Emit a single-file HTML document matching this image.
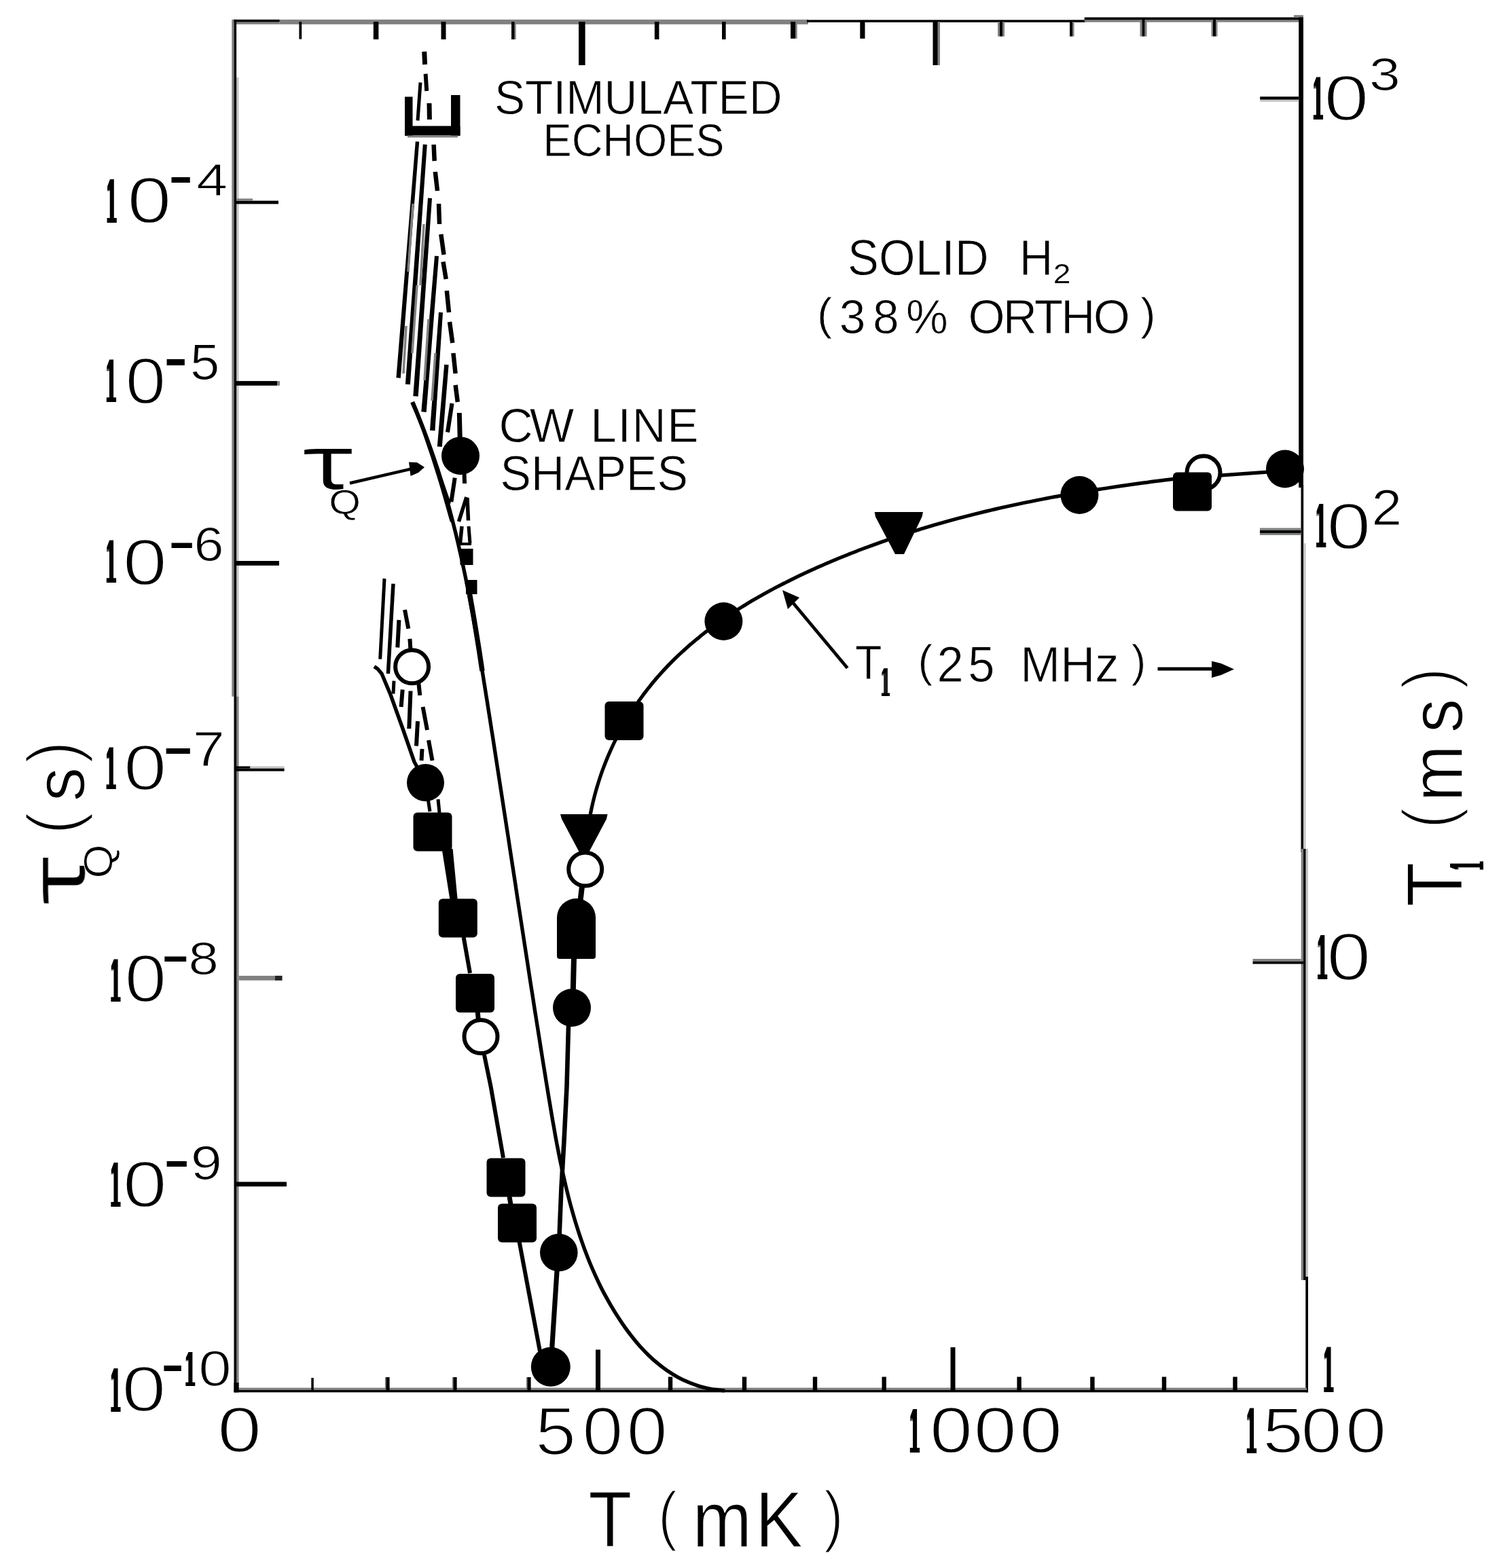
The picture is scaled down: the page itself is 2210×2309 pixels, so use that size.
<!DOCTYPE html>
<html lang="en">
<head>
<meta charset="utf-8">
<title>Solid H2 (38% ortho): tau_Q and T1 versus temperature</title>
<style>
html,body{margin:0;padding:0;background:#fff;}
body{width:2210px;height:2309px;overflow:hidden;}
svg{display:block;}
text{white-space:pre;}
</style>
</head>
<body>
<svg width="2210" height="2309" viewBox="0 0 2210 2309">
<rect width="2210" height="2309" fill="#fff"/>
<defs><filter id="e0" x="-10%" y="-10%" width="120%" height="120%"><feMorphology operator="erode" radius="1.38 0.36"/></filter><filter id="d1" x="-150%" y="-10%" width="400%" height="120%"><feMorphology operator="dilate" radius="12.82 0"/></filter><filter id="d2" x="-150%" y="-10%" width="400%" height="120%"><feMorphology operator="dilate" radius="9.88 0"/></filter><filter id="d3" x="-150%" y="-10%" width="400%" height="120%"><feMorphology operator="dilate" radius="9.88 0"/></filter><filter id="d4" x="-150%" y="-10%" width="400%" height="120%"><feMorphology operator="dilate" radius="9.88 0"/></filter><filter id="d5" x="-150%" y="-10%" width="400%" height="120%"><feMorphology operator="dilate" radius="9.88 0"/></filter><filter id="d6" x="-150%" y="-10%" width="400%" height="120%"><feMorphology operator="dilate" radius="9.88 0"/></filter><filter id="d7" x="-150%" y="-10%" width="400%" height="120%"><feMorphology operator="dilate" radius="9.88 0"/></filter><filter id="d8" x="-150%" y="-10%" width="400%" height="120%"><feMorphology operator="dilate" radius="9.88 0"/></filter><filter id="d9" x="-150%" y="-10%" width="400%" height="120%"><feMorphology operator="dilate" radius="10.67 0"/></filter><filter id="d10" x="-150%" y="-10%" width="400%" height="120%"><feMorphology operator="dilate" radius="9.88 0"/></filter><filter id="d11" x="-150%" y="-10%" width="400%" height="120%"><feMorphology operator="dilate" radius="9.88 0"/></filter><filter id="d12" x="-150%" y="-10%" width="400%" height="120%"><feMorphology operator="dilate" radius="9.88 0"/></filter><filter id="d13" x="-150%" y="-10%" width="400%" height="120%"><feMorphology operator="dilate" radius="9.88 0"/></filter><filter id="d14" x="-150%" y="-10%" width="400%" height="120%"><feMorphology operator="dilate" radius="9.88 0"/></filter><filter id="d15" x="-150%" y="-10%" width="400%" height="120%"><feMorphology operator="dilate" radius="9.88 0"/></filter><filter id="e16" x="-10%" y="-10%" width="120%" height="120%"><feMorphology operator="erode" radius="1.32 0.43"/></filter><filter id="d17" x="-150%" y="-10%" width="400%" height="120%"><feMorphology operator="dilate" radius="12.82 0"/></filter></defs>
<g id="frame">
<rect x="411.7" y="28.8" width="778.3" height="7.0" fill="#7f8080"/>
<rect x="346" y="32.5" width="65.7" height="3.3" fill="#7f8080"/>
<rect x="344.5" y="28.8" width="67.2" height="3.7" fill="#000"/>
<rect x="1188" y="29.3" width="410.0" height="3.5" fill="#000"/>
<rect x="1596.7" y="29.3" width="319.3" height="3.3" fill="#7f8080"/>
<rect x="1596.7" y="25.5" width="322.3" height="3.8" fill="#000"/>
<rect x="1905" y="22.2" width="14.0" height="3.3" fill="#7f8080"/>
<rect x="341.3" y="28.8" width="3.3" height="996.9" fill="#7f8080"/>
<rect x="348" y="114" width="3.6" height="911.7" fill="#c4c4c4"/>
<rect x="348" y="1025.7" width="3.6" height="1024.6" fill="#7f8080"/>
<rect x="344.5" y="28.8" width="3.6" height="2021.5" fill="#000"/>
<rect x="1912.2" y="25.5" width="6.8" height="692.5" fill="#000"/>
<rect x="1915.5" y="714" width="3.7" height="541.0" fill="#000"/>
<rect x="1919.2" y="800" width="3.4" height="455.0" fill="#c4c4c4"/>
<rect x="1915.7" y="1250" width="3.5" height="635.0" fill="#7f8080"/>
<rect x="1919.1" y="1250" width="3.6" height="635.0" fill="#000"/>
<rect x="1922.7" y="1250" width="3.3" height="635.0" fill="#c4c4c4"/>
<rect x="1922.3" y="1880" width="3.7" height="170.3" fill="#000"/>
<rect x="346" y="2043.6" width="1578.0" height="3.4" fill="#7f8080"/>
<rect x="344.5" y="2047" width="1581.5" height="3.3" fill="#000"/>
<rect x="344.5" y="2036" width="7.1" height="14.3" fill="#000"/>
</g>
<g id="ticks">
<rect x="440.4" y="32" width="3.8" height="25.6" fill="#000"/>
<rect x="549.8" y="32" width="7.6" height="26.0" fill="#000"/>
<rect x="649.5" y="32" width="7.0" height="26.0" fill="#000"/>
<rect x="757.6" y="32" width="2.0" height="26.0" fill="#7f8080"/>
<rect x="753" y="32" width="4.6" height="26.0" fill="#000"/>
<rect x="963.8" y="32" width="6.6" height="26.0" fill="#000"/>
<rect x="1063" y="32" width="5.6" height="26.0" fill="#000"/>
<rect x="1171.2" y="32" width="2.5" height="24.8" fill="#7f8080"/>
<rect x="1164" y="32" width="7.2" height="24.8" fill="#000"/>
<rect x="1266.3" y="32" width="7.2" height="24.8" fill="#000"/>
<rect x="1469" y="32" width="3.0" height="21.6" fill="#7f8080"/>
<rect x="1476" y="32" width="3.0" height="21.6" fill="#7f8080"/>
<rect x="1472" y="32" width="4.0" height="21.6" fill="#000"/>
<rect x="1579" y="32" width="2.5" height="21.6" fill="#7f8080"/>
<rect x="1575" y="32" width="4.0" height="21.6" fill="#000"/>
<rect x="1678.5" y="29" width="3.0" height="24.6" fill="#7f8080"/>
<rect x="1685.5" y="29" width="3.0" height="24.6" fill="#7f8080"/>
<rect x="1681.5" y="29" width="4.0" height="24.6" fill="#000"/>
<rect x="1783.5" y="29" width="2.5" height="24.6" fill="#7f8080"/>
<rect x="1790" y="29" width="2.5" height="24.6" fill="#7f8080"/>
<rect x="1786" y="29" width="4.0" height="24.6" fill="#000"/>
<rect x="852" y="32" width="9.6" height="64.0" fill="#000"/>
<rect x="1380.7" y="32" width="3.3" height="64.0" fill="#7f8080"/>
<rect x="1373.5" y="32" width="7.2" height="64.0" fill="#000"/>
<rect x="458.3" y="2029" width="3.5" height="18.0" fill="#000"/>
<rect x="566.9" y="2028" width="1.5" height="19.0" fill="#7f8080"/>
<rect x="568.4" y="2028" width="5.2" height="19.0" fill="#000"/>
<rect x="665.9" y="2028" width="1.5" height="19.0" fill="#7f8080"/>
<rect x="667.4" y="2028" width="5.2" height="19.0" fill="#000"/>
<rect x="774.9" y="2028" width="1.5" height="19.0" fill="#7f8080"/>
<rect x="776.4" y="2028" width="5.2" height="19.0" fill="#000"/>
<rect x="983.8" y="2027.5" width="6.4" height="19.5" fill="#000"/>
<rect x="1092.8" y="2027.5" width="6.4" height="19.5" fill="#000"/>
<rect x="1196.8" y="2027.5" width="6.4" height="19.5" fill="#000"/>
<rect x="1298.5" y="2027.5" width="6.4" height="19.5" fill="#000"/>
<rect x="1497.3999999999999" y="2027.5" width="6.4" height="19.5" fill="#000"/>
<rect x="1605.2" y="2027.5" width="6.4" height="19.5" fill="#000"/>
<rect x="1710.8" y="2027.5" width="6.4" height="19.5" fill="#000"/>
<rect x="1815.3" y="2027.5" width="6.4" height="19.5" fill="#000"/>
<rect x="877" y="1987.5" width="7.0" height="59.5" fill="#000"/>
<rect x="1399.5" y="1984" width="7.0" height="63.0" fill="#000"/>
<rect x="348" y="295.6" width="62.0" height="4.8" fill="#000"/>
<rect x="348" y="292.4" width="24.0" height="3.2" fill="#7f8080"/>
<rect x="348" y="561.1" width="60.4" height="6.7" fill="#000"/>
<rect x="408.4" y="561.1" width="3.6" height="6.7" fill="#7f8080"/>
<rect x="348" y="826" width="63.0" height="6.8" fill="#000"/>
<rect x="348" y="1131.4" width="70.6" height="4.2" fill="#000"/>
<rect x="348" y="1128.4" width="20.5" height="3.0" fill="#000"/>
<rect x="368.5" y="1128.4" width="50.1" height="3.0" fill="#c4c4c4"/>
<rect x="351.6" y="1436.9" width="63.8" height="6.8" fill="#7f8080"/>
<rect x="405" y="1436.9" width="10.4" height="6.8" fill="#222"/>
<rect x="348" y="1740.4" width="74.0" height="6.8" fill="#000"/>
<rect x="1855.2" y="142.3" width="57.0" height="4.5" fill="#000"/>
<rect x="1855.2" y="146.8" width="57.0" height="3.0" fill="#c4c4c4"/>
<rect x="1855" y="777.5" width="60.5" height="10.5" fill="#7f8080"/>
<rect x="1855" y="781" width="60.5" height="3.9" fill="#000"/>
<rect x="1844.5" y="1412" width="71.2" height="3.7" fill="#7f8080"/>
<rect x="1844.5" y="1415.7" width="74.5" height="3.8" fill="#000"/>
</g>
<g id="curves">
<path d="M606.8 592.4 C608.0 595.2 611.6 603.3 613.9 608.7 C616.2 614.2 618.5 619.7 620.7 625.1 C622.9 630.6 625.0 636.1 627.2 641.7 C629.3 647.2 631.3 652.8 633.3 658.3 C635.3 663.9 637.3 669.5 639.2 675.1 C641.1 680.7 642.9 686.3 644.8 691.9 C646.6 697.6 648.4 703.2 650.1 708.9 C651.8 714.6 653.5 720.3 655.2 725.9 C656.8 731.6 658.4 737.4 660.0 743.1 C661.6 748.8 663.1 754.5 664.6 760.3 C666.1 766.0 667.6 771.8 669.0 777.6 C670.5 783.3 671.9 789.1 673.2 794.9 C674.6 800.7 675.9 806.5 677.2 812.3 C678.6 818.1 679.8 824.0 681.1 829.8 C682.3 835.6 683.6 841.4 684.8 847.3 C686.0 853.1 687.2 859.0 688.3 864.8 C689.5 870.7 690.6 876.5 691.7 882.4 C692.8 888.3 693.9 894.1 695.0 900.0 C696.1 905.9 697.1 911.8 698.2 917.6 C699.2 923.5 700.2 929.4 701.3 935.3 C702.3 941.2 703.3 947.0 704.3 952.9 C705.3 958.8 706.2 964.7 707.2 970.6 C708.2 976.5 709.1 982.3 710.1 988.2 C711.0 994.1 712.0 1000.0 712.9 1005.9 C713.9 1011.7 714.8 1017.6 715.7 1023.5 C716.7 1029.3 717.6 1035.2 718.5 1041.1 C719.4 1046.9 720.4 1052.8 721.3 1058.7 C722.2 1064.5 723.1 1070.4 724.0 1076.2 C725.0 1082.1 725.9 1087.9 726.8 1093.8 C727.7 1099.6 728.6 1105.4 729.5 1111.3 C730.4 1117.1 731.3 1123.0 732.2 1128.8 C733.1 1134.6 734.0 1140.5 734.9 1146.3 C735.8 1152.1 736.7 1158.0 737.6 1163.8 C738.5 1169.6 739.4 1175.5 740.3 1181.3 C741.2 1187.1 742.1 1193.0 743.0 1198.8 C743.9 1204.6 744.8 1210.4 745.7 1216.3 C746.6 1222.1 747.5 1227.9 748.4 1233.7 C749.3 1239.6 750.2 1245.4 751.0 1251.2 C751.9 1257.0 752.8 1262.9 753.7 1268.7 C754.6 1274.5 755.5 1280.3 756.4 1286.2 C757.3 1292.0 758.2 1297.8 759.1 1303.6 C759.9 1309.5 760.8 1315.3 761.7 1321.1 C762.6 1327.0 763.5 1332.8 764.4 1338.6 C765.3 1344.4 766.2 1350.3 767.1 1356.1 C768.0 1362.0 768.9 1367.8 769.8 1373.6 C770.7 1379.5 771.6 1385.3 772.5 1391.2 C773.4 1397.0 774.3 1402.8 775.2 1408.7 C776.1 1414.5 777.0 1420.4 777.9 1426.2 C778.8 1432.1 779.7 1438.0 780.6 1443.8 C781.5 1449.7 782.4 1455.5 783.4 1461.4 C784.3 1467.3 785.2 1473.1 786.1 1479.0 C787.0 1484.9 787.9 1490.8 788.9 1496.6 C789.8 1502.5 790.7 1508.4 791.7 1514.3 C792.6 1520.2 793.5 1526.1 794.5 1532.0 C795.4 1537.9 796.3 1543.8 797.3 1549.7 C798.2 1555.6 799.2 1561.5 800.1 1567.4 C801.1 1573.4 802.0 1579.3 803.0 1585.2 C803.9 1591.1 804.9 1597.1 805.9 1603.0 C806.8 1608.9 807.8 1614.9 808.8 1620.8 C809.8 1626.8 810.8 1632.7 811.8 1638.7 C812.8 1644.6 813.8 1650.6 814.9 1656.5 C815.9 1662.5 817.0 1668.4 818.0 1674.3 C819.1 1680.3 820.2 1686.2 821.4 1692.1 C822.5 1698.0 823.7 1703.9 824.9 1709.8 C826.1 1715.7 827.4 1721.6 828.7 1727.4 C830.0 1733.3 831.3 1739.1 832.7 1744.9 C834.0 1750.8 835.5 1756.6 836.9 1762.3 C838.4 1768.1 839.9 1773.9 841.5 1779.6 C843.1 1785.4 844.7 1791.1 846.4 1796.7 C848.1 1802.4 849.9 1808.1 851.7 1813.7 C853.5 1819.3 855.4 1824.9 857.4 1830.4 C859.3 1836.0 861.3 1841.5 863.5 1847.0 C865.6 1852.5 867.7 1857.9 870.0 1863.3 C872.3 1868.7 874.6 1874.1 877.1 1879.4 C879.5 1884.7 882.0 1890.0 884.6 1895.2 C887.2 1900.4 889.9 1905.6 892.8 1910.7 C895.6 1915.8 898.4 1920.9 901.5 1925.9 C904.5 1931.0 907.6 1935.9 910.8 1940.8 C914.0 1945.8 917.3 1950.6 920.7 1955.4 C924.2 1960.2 927.7 1964.9 931.4 1969.5 C935.0 1974.1 938.8 1978.7 942.7 1983.0 C946.7 1987.4 950.7 1991.6 954.9 1995.7 C959.1 1999.8 963.5 2003.7 968.0 2007.4 C972.5 2011.2 977.1 2014.7 981.9 2018.0 C986.7 2021.3 991.7 2024.5 996.8 2027.3 C1001.9 2030.2 1007.2 2032.8 1012.7 2035.1 C1018.2 2037.4 1023.8 2039.5 1029.7 2041.3 C1035.5 2043.0 1041.6 2044.5 1047.8 2045.6 C1054.0 2046.7 1063.8 2047.5 1067.1 2047.9" fill="none" stroke="#000" stroke-width="5.4" stroke-linejoin="round"/>
<path d="M607.5 592.0 C610.6 599.9 619.4 620.9 626.0 639.6 C632.6 658.3 640.7 682.6 647.3 704.0 C653.9 725.4 662.6 757.3 665.7 768.0" fill="none" stroke="#000" stroke-width="6" stroke-linejoin="round"/>
<path d="M688.0 858.0 C688.3 859.3 688.3 857.0 690.0 866.0 C691.7 875.0 695.4 896.7 698.0 912.0 C700.6 927.3 703.5 945.3 705.5 958.0 C707.5 970.7 709.2 983.0 710.0 988.0" fill="none" stroke="#000" stroke-width="7.4" stroke-linejoin="round"/>
<path d="M864.3 1231.7 C864.6 1229.2 865.5 1221.8 866.2 1217.0 C867.0 1212.1 867.8 1207.2 868.7 1202.4 C869.5 1197.6 870.5 1192.8 871.5 1188.1 C872.6 1183.3 873.7 1178.6 874.9 1173.9 C876.1 1169.2 877.4 1164.6 878.7 1160.0 C880.1 1155.4 881.5 1150.8 883.0 1146.2 C884.5 1141.7 886.0 1137.2 887.7 1132.7 C889.3 1128.2 891.0 1123.8 892.8 1119.4 C894.6 1115.0 896.4 1110.7 898.4 1106.3 C900.3 1102.0 902.3 1097.7 904.3 1093.5 C906.4 1089.2 908.5 1085.0 910.7 1080.9 C912.9 1076.7 915.1 1072.6 917.5 1068.5 C919.8 1064.4 922.2 1060.4 924.6 1056.4 C927.0 1052.4 929.6 1048.5 932.1 1044.5 C934.7 1040.6 937.3 1036.8 940.0 1033.0 C942.7 1029.1 945.5 1025.4 948.3 1021.6 C951.1 1017.9 953.9 1014.2 956.9 1010.6 C959.8 1006.9 962.8 1003.3 965.8 999.8 C968.8 996.3 971.9 992.8 975.1 989.3 C978.2 985.9 981.4 982.5 984.6 979.1 C987.9 975.8 991.2 972.5 994.5 969.2 C997.9 966.0 1001.3 962.7 1004.7 959.6 C1008.2 956.4 1011.7 953.3 1015.2 950.2 C1018.7 947.2 1022.3 944.1 1025.9 941.2 C1029.6 938.2 1033.2 935.2 1036.9 932.3 C1040.6 929.5 1044.4 926.6 1048.2 923.8 C1051.9 921.0 1055.8 918.2 1059.6 915.5 C1063.5 912.8 1067.4 910.1 1071.3 907.4 C1075.2 904.8 1079.2 902.2 1083.2 899.6 C1087.1 897.0 1091.2 894.5 1095.2 892.0 C1099.3 889.5 1103.3 887.0 1107.4 884.6 C1111.5 882.2 1115.7 879.8 1119.8 877.5 C1124.0 875.1 1128.2 872.8 1132.4 870.5 C1136.6 868.2 1140.8 866.0 1145.0 863.8 C1149.3 861.5 1153.5 859.4 1157.8 857.2 C1162.1 855.1 1166.4 852.9 1170.7 850.9 C1175.0 848.8 1179.3 846.7 1183.6 844.7 C1188.0 842.7 1192.3 840.7 1196.7 838.7 C1201.0 836.7 1205.4 834.8 1209.8 832.9 C1214.2 830.9 1218.5 829.1 1222.9 827.2 C1227.3 825.3 1231.7 823.5 1236.1 821.7 C1240.5 819.9 1244.9 818.1 1249.4 816.3 C1253.8 814.6 1258.2 812.9 1262.6 811.1 C1267.1 809.4 1271.5 807.8 1275.9 806.1 C1280.4 804.4 1284.8 802.8 1289.3 801.2 C1293.7 799.6 1298.2 798.0 1302.7 796.5 C1307.1 794.9 1311.6 793.4 1316.1 791.8 C1320.6 790.3 1325.1 788.8 1329.5 787.4 C1334.0 785.9 1338.5 784.5 1343.0 783.0 C1347.5 781.6 1352.1 780.2 1356.6 778.8 C1361.1 777.5 1365.6 776.1 1370.1 774.8 C1374.7 773.4 1379.2 772.1 1383.7 770.8 C1388.3 769.5 1392.8 768.2 1397.3 767.0 C1401.9 765.7 1406.4 764.5 1411.0 763.3 C1415.6 762.1 1420.1 760.9 1424.7 759.7 C1429.3 758.5 1433.8 757.4 1438.4 756.2 C1443.0 755.1 1447.6 754.0 1452.1 752.9 C1456.7 751.8 1461.3 750.7 1465.9 749.6 C1470.5 748.6 1475.1 747.5 1479.7 746.5 C1484.3 745.5 1488.9 744.5 1493.5 743.5 C1498.2 742.5 1502.8 741.5 1507.4 740.5 C1512.0 739.6 1516.6 738.6 1521.3 737.7 C1525.9 736.8 1530.5 735.9 1535.2 735.0 C1539.8 734.1 1544.5 733.2 1549.1 732.3 C1553.7 731.4 1558.4 730.6 1563.0 729.8 C1567.7 728.9 1572.4 728.1 1577.0 727.3 C1581.7 726.5 1586.3 725.7 1591.0 724.9 C1595.7 724.1 1600.3 723.3 1605.0 722.6 C1609.7 721.8 1614.4 721.1 1619.0 720.4 C1623.7 719.6 1628.4 718.9 1633.1 718.2 C1637.8 717.5 1642.5 716.8 1647.2 716.1 C1651.8 715.4 1656.5 714.8 1661.2 714.1 C1665.9 713.4 1670.6 712.8 1675.3 712.1 C1680.0 711.5 1684.8 710.9 1689.5 710.3 C1694.2 709.6 1698.9 709.0 1703.6 708.4 C1708.3 707.8 1713.0 707.2 1717.7 706.7 C1722.5 706.1 1727.2 705.5 1731.9 704.9 C1736.6 704.4 1741.3 703.8 1746.1 703.3 C1750.8 702.7 1757.9 701.9 1760.3 701.7" fill="none" stroke="#000" stroke-width="5.2" stroke-linejoin="round"/>
<polyline points="1760.0,701.0 1799.0,699.8 1866.0,695.2 1893.0,693.0" fill="none" stroke="#000" stroke-width="5.2" stroke-linejoin="round" stroke-linecap="butt"/>
<polyline points="626.5,1152.5 633.0,1195.0" fill="none" stroke="#000" stroke-width="5" stroke-linejoin="round" stroke-linecap="butt"/>
<polyline points="645.0,1177.0 647.0,1197.0" fill="none" stroke="#000" stroke-width="5" stroke-linejoin="round" stroke-linecap="butt"/>
<polygon points="650.6,1250.0 666.6,1250.0 673.8,1326.0 662.6,1326.0" fill="#000"/>
<polyline points="682.6,1380.0 692.0,1433.0" fill="none" stroke="#000" stroke-width="6" stroke-linejoin="round" stroke-linecap="butt"/>
<polyline points="703.0,1488.0 704.5,1503.0" fill="none" stroke="#000" stroke-width="7" stroke-linejoin="round" stroke-linecap="butt"/>
<polyline points="712.5,1551.0 722.6,1600.0 741.0,1705.0" fill="none" stroke="#000" stroke-width="6" stroke-linejoin="round" stroke-linecap="butt"/>
<polyline points="750.0,1762.0 752.0,1774.0" fill="none" stroke="#000" stroke-width="7" stroke-linejoin="round" stroke-linecap="butt"/>
<polyline points="764.5,1828.0 795.0,1990.0" fill="none" stroke="#000" stroke-width="6" stroke-linejoin="round" stroke-linecap="butt"/>
<polyline points="811.0,2011.5 820.0,1872.0 822.5,1845.0" fill="none" stroke="#000" stroke-width="7.2" stroke-linejoin="round" stroke-linecap="butt"/>
<polyline points="822.5,1845.0 826.5,1749.0 830.5,1680.0 834.5,1600.0 837.0,1510.0" fill="none" stroke="#000" stroke-width="6.6" stroke-linejoin="round" stroke-linecap="butt"/>
<polyline points="845.0,1410.0 843.8,1458.0" fill="none" stroke="#000" stroke-width="8" stroke-linejoin="round" stroke-linecap="butt"/>
<polyline points="857.0,1305.0 854.5,1326.0" fill="none" stroke="#000" stroke-width="8" stroke-linejoin="round" stroke-linecap="butt"/>
<polyline points="861.0,1250.0 862.0,1256.0" fill="none" stroke="#000" stroke-width="6" stroke-linejoin="round" stroke-linecap="butt"/>
</g>
<g id="hatch" stroke-linecap="butt">
<line x1="624.7" y1="76" x2="625.6" y2="95" stroke="#000" stroke-width="7" stroke-linecap="butt"/>
<line x1="626.6" y1="108.7" x2="628.2" y2="134" stroke="#000" stroke-width="6" stroke-linecap="butt"/>
<line x1="619" y1="121.5" x2="615" y2="177.5" stroke="#000" stroke-width="5" stroke-linecap="butt"/>
<line x1="632" y1="152" x2="632.4" y2="176" stroke="#000" stroke-width="7" stroke-linecap="butt"/>
<rect x="596" y="142.5" width="11.5" height="57.5" fill="#000"/>
<rect x="664" y="140" width="13.5" height="60.0" fill="#000"/>
<rect x="596" y="185.5" width="81.5" height="14.0" fill="#000"/>
<rect x="600" y="199.5" width="74.0" height="3.0" fill="#7f8080"/>
<polygon points="611.8,208.3 583.4,556.2 589.8,556.8 617.2,208.7" fill="#000"/>
<polygon points="622.8,212.6 596.9,565.7 603.9,566.3 628.8,213.0" fill="#000"/>
<polygon points="630.0,291.5 608.3,583.2 615.7,583.8 636.0,291.9" fill="#000"/>
<polygon points="640.0,376.8 620.3,606.3 627.7,606.9 646.0,377.2" fill="#000"/>
<polygon points="646.0,459.8 633.0,633.7 640.4,634.3 652.0,460.2" fill="#000"/>
<polygon points="654.2,536.7 643.8,657.5 650.8,658.1 660.6,537.3" fill="#000"/>
<polygon points="662.5,593.5 656.0,636.0 662.0,637.0 668.5,594.5" fill="#000"/>
<line x1="608" y1="300" x2="601" y2="400" stroke="#7f8080" stroke-width="3.5" stroke-linecap="butt"/>
<line x1="614" y1="420" x2="607" y2="520" stroke="#7f8080" stroke-width="3.5" stroke-linecap="butt"/>
<line x1="624" y1="330" x2="619" y2="420" stroke="#7f8080" stroke-width="3.5" stroke-linecap="butt"/>
<line x1="631" y1="470" x2="625" y2="560" stroke="#7f8080" stroke-width="3.5" stroke-linecap="butt"/>
<line x1="641" y1="520" x2="636" y2="590" stroke="#7f8080" stroke-width="3.5" stroke-linecap="butt"/>
<line x1="598" y1="480" x2="594" y2="550" stroke="#7f8080" stroke-width="3.5" stroke-linecap="butt"/>
<line x1="638.6" y1="212.8" x2="639.7" y2="237" stroke="#000" stroke-width="6.5" stroke-linecap="butt"/>
<line x1="640.8" y1="253" x2="644" y2="281" stroke="#000" stroke-width="6.5" stroke-linecap="butt"/>
<line x1="646" y1="300" x2="647" y2="330" stroke="#000" stroke-width="6.5" stroke-linecap="butt"/>
<line x1="649.3" y1="345" x2="653.5" y2="375" stroke="#000" stroke-width="6.5" stroke-linecap="butt"/>
<line x1="652.5" y1="385.5" x2="656.7" y2="411" stroke="#000" stroke-width="6.5" stroke-linecap="butt"/>
<line x1="657.8" y1="428" x2="661" y2="460" stroke="#000" stroke-width="6.5" stroke-linecap="butt"/>
<line x1="662" y1="474" x2="666.3" y2="505" stroke="#000" stroke-width="6.5" stroke-linecap="butt"/>
<line x1="667.4" y1="520" x2="670.6" y2="550" stroke="#000" stroke-width="6.5" stroke-linecap="butt"/>
<line x1="670.6" y1="567" x2="673.8" y2="592" stroke="#000" stroke-width="6.5" stroke-linecap="butt"/>
<line x1="676.3" y1="608" x2="677.3" y2="648" stroke="#000" stroke-width="7" stroke-linecap="butt"/>
<line x1="683.5" y1="695" x2="684" y2="712" stroke="#000" stroke-width="6" stroke-linecap="butt"/>
<line x1="647" y1="702" x2="661" y2="742" stroke="#000" stroke-width="6.5" stroke-linecap="butt"/>
<line x1="669.7" y1="703.6" x2="664.4" y2="739" stroke="#000" stroke-width="6" stroke-linecap="butt"/>
<line x1="686.8" y1="732" x2="675.5" y2="768" stroke="#000" stroke-width="5.5" stroke-linecap="butt"/>
<line x1="688" y1="733" x2="689.5" y2="766.5" stroke="#000" stroke-width="5.5" stroke-linecap="butt"/>
<line x1="680" y1="775" x2="677.5" y2="800" stroke="#000" stroke-width="5.5" stroke-linecap="butt"/>
<line x1="690" y1="775" x2="692" y2="800" stroke="#000" stroke-width="5" stroke-linecap="butt"/>
<polyline points="677.0,801.0 694.0,801.0" fill="none" stroke="#000" stroke-width="4" stroke-linejoin="round" stroke-linecap="butt"/>
<rect x="677.5" y="808" width="19.0" height="24.0" fill="#000"/>
<rect x="686" y="854" width="16.5" height="21.0" fill="#000"/>
<polyline points="551.0,981.5 556.0,985.0 562.0,992.0 575.0,1023.0 593.5,1074.5 610.0,1122.0 626.5,1152.0" fill="none" stroke="#000" stroke-width="5.4" stroke-linejoin="round" stroke-linecap="butt"/>
<line x1="566" y1="852" x2="559.7" y2="970.6" stroke="#000" stroke-width="5" stroke-linecap="butt"/>
<line x1="579" y1="859.7" x2="571.4" y2="992" stroke="#000" stroke-width="5.5" stroke-linecap="butt"/>
<line x1="587.4" y1="913" x2="585.3" y2="953.5" stroke="#000" stroke-width="6" stroke-linecap="butt"/>
<line x1="596" y1="898" x2="601.3" y2="925.8" stroke="#000" stroke-width="6" stroke-linecap="butt"/>
<line x1="603.4" y1="940.7" x2="604.5" y2="957.8" stroke="#000" stroke-width="6" stroke-linecap="butt"/>
<line x1="616.2" y1="1004.7" x2="618.3" y2="1024" stroke="#000" stroke-width="6" stroke-linecap="butt"/>
<line x1="592.7" y1="1015.4" x2="590.6" y2="1041" stroke="#000" stroke-width="6" stroke-linecap="butt"/>
<line x1="604.5" y1="1017.5" x2="602.3" y2="1073" stroke="#000" stroke-width="6" stroke-linecap="butt"/>
<line x1="622.6" y1="1041" x2="629" y2="1075" stroke="#000" stroke-width="6" stroke-linecap="butt"/>
<line x1="615" y1="1062" x2="613" y2="1098.5" stroke="#000" stroke-width="6" stroke-linecap="butt"/>
<line x1="631" y1="1090" x2="636.5" y2="1120" stroke="#000" stroke-width="6" stroke-linecap="butt"/>
<line x1="621.5" y1="1102.8" x2="620.5" y2="1120" stroke="#000" stroke-width="6" stroke-linecap="butt"/>
<line x1="580" y1="1002.6" x2="579" y2="1021.7" stroke="#000" stroke-width="5" stroke-linecap="butt"/>
</g>
<g id="markers">
<circle cx="678" cy="671.2" r="28" fill="#000"/>
<circle cx="626.5" cy="1152.5" r="27.5" fill="#000"/>
<circle cx="842" cy="1484" r="28" fill="#000"/>
<circle cx="822.8" cy="1844.5" r="27.8" fill="#000"/>
<circle cx="810.8" cy="2012.8" r="29" fill="#000"/>
<circle cx="1065.4" cy="915" r="28" fill="#000"/>
<circle cx="1589.4" cy="729" r="28" fill="#000"/>
<circle cx="1892" cy="690.5" r="28" fill="#000"/>
<circle cx="606.6" cy="981.7" r="24.5" fill="#fff" stroke="#000" stroke-width="6"/>
<circle cx="708" cy="1526.5" r="24.5" fill="#fff" stroke="#000" stroke-width="6"/>
<circle cx="861.7" cy="1280" r="24.5" fill="#fff" stroke="#000" stroke-width="6"/>
<circle cx="1772" cy="696" r="24.5" fill="#fff" stroke="#000" stroke-width="6"/>
<rect x="608.5" y="1196.5" width="57" height="57" rx="6" fill="#000"/>
<rect x="645.8" y="1323.5" width="57" height="57" rx="6" fill="#000"/>
<rect x="671.0" y="1434.0" width="57" height="57" rx="6" fill="#000"/>
<rect x="716.5" y="1705.5" width="57" height="57" rx="6" fill="#000"/>
<rect x="733.0" y="1772.5" width="57" height="57" rx="6" fill="#000"/>
<rect x="890.5" y="1033.0" width="57" height="57" rx="6" fill="#000"/>
<rect x="1727.0" y="695.5" width="57" height="57" rx="6" fill="#000"/>
<circle cx="848.5" cy="1351.5" r="28.5" fill="#000"/>
<path d="M820 1350 L877 1350 L877 1408 Q877 1412 873 1412 L824 1412 Q820 1412 820 1408 Z" fill="#000"/>
<polygon points="825.0,1199.0 894.5,1199.0 893.0,1206.0 866.0,1257.0 854.0,1257.0 827.0,1206.0" fill="#000"/>
<polygon points="1287.7,754.0 1359.0,754.0 1357.5,761.0 1331.0,816.0 1318.0,816.0 1289.0,761.0" fill="#000"/>
</g>
<g id="arrows">
<line x1="515" y1="711.5" x2="606" y2="690.3" stroke="#000" stroke-width="4.4" stroke-linecap="butt"/>
<polygon points="602.0,680.5 614.0,681.0 625.0,688.0 616.0,696.0 604.5,701.0" fill="#000"/>
<line x1="1247.7" y1="983.8" x2="1162" y2="881" stroke="#000" stroke-width="4.8" stroke-linecap="butt"/>
<polygon points="1152.0,869.0 1177.0,880.0 1160.0,897.0" fill="#000"/>
<line x1="1704.5" y1="985" x2="1790" y2="985" stroke="#000" stroke-width="5" stroke-linecap="butt"/>
<polygon points="1784.0,973.5 1798.0,977.0 1817.0,985.5 1798.0,994.0 1784.0,998.0" fill="#000"/>
</g>
<g id="labels" font-family="'Liberation Sans', sans-serif" font-size="100" fill="#000">
<text transform="matrix(0.6768 0 0 0.7067 727.95 168.29)" stroke="#fff" stroke-width="1.2">STIMULATED</text>
<text transform="matrix(0.6325 0 0 0.6926 799.48 230.31)" stroke="#fff" stroke-width="1.2">ECHOES</text>
<text transform="matrix(0.6881 0 0 0.7491 0 404.50)" stroke="#fff" stroke-width="1.2"><tspan x="1813.54" letter-spacing="0.49" y="0">SOLID</tspan> <tspan x="2180.84" y="0">H</tspan></text>
<text transform="matrix(0.4615 0 0 0.4086 1550.69 417.00)" stroke="#fff" stroke-width="0.5">2</text>
<text transform="matrix(0.6951 0 0 0.6982 0 491.00)" stroke="#fff" stroke-width="1.2"><tspan x="1730.69" y="-8.46" font-size="96.0">(</tspan><tspan x="1777.89" letter-spacing="15.07" y="0">38%</tspan> <tspan x="2050.67" letter-spacing="-4.07" y="0">ORTHO</tspan><tspan x="2415.74" y="-8.46" font-size="96.0">)</tspan></text>
<text transform="matrix(0.6941 0 0 0.6982 0 651.00)" stroke="#fff" stroke-width="1.2"><tspan x="1058.29" letter-spacing="-7.09" y="0">CW</tspan> <tspan x="1252.43" letter-spacing="2.36" y="0">LINE</tspan></text>
<text transform="matrix(0.6815 0 0 0.7138 736.53 721.79)" stroke="#fff" stroke-width="1.2">SHAPES</text>
<text transform="matrix(2.0295 0 0 1.1126 442.16 719.79)" filter="url(#e0)">τ</text>
<text transform="matrix(0.6007 0 0 0.4992 484.15 756.52)" stroke="#fff" stroke-width="1.2">Q</text>
<text transform="matrix(0.6460 0 0 0.6967 1259.05 999.70)" stroke="#fff" stroke-width="1.2">T</text>
<text transform="matrix(0.1887 0 0 0.5993 1298.43 1025.00)" filter="url(#d1)">1</text>
<text transform="matrix(0.7047 0 0 0.7345 0 1003.50)" stroke="#fff" stroke-width="1.2"><tspan x="1917.70" y="-9.56" font-size="92.0">(</tspan><tspan x="1957.59" letter-spacing="9.40" y="0">25</tspan> <tspan x="2131.73" letter-spacing="0.37" y="0">MHz</tspan><tspan x="2363.95" y="-9.56" font-size="92.0">)</tspan></text>
<g>
<text transform="matrix(0.2380 0 0 0.9309 157.68 328.00)" filter="url(#d2)">1</text>
<text transform="matrix(1.1728 0 0 0.9724 187.31 328.43)" stroke="#fff" stroke-width="2.4">0</text>
<text transform="matrix(1.1184 0 0 1.0323 247.57 293.48)">-</text>
<text transform="matrix(0.8238 0 0 0.6691 289.15 288.00)" stroke="#fff" stroke-width="1.6">4</text>
</g>
<g>
<text transform="matrix(0.2380 0 0 0.9105 156.98 591.60)" filter="url(#d3)">1</text>
<text transform="matrix(1.0743 0 0 0.9724 184.40 593.83)" stroke="#fff" stroke-width="2.4">0</text>
<text transform="matrix(1.0776 0 0 1.1613 240.75 564.92)">-</text>
<text transform="matrix(0.7789 0 0 0.7384 279.88 559.26)" stroke="#fff" stroke-width="1.6">5</text>
</g>
<g>
<text transform="matrix(0.2380 0 0 0.9120 156.98 858.40)" filter="url(#d4)">1</text>
<text transform="matrix(1.1728 0 0 0.9555 180.81 861.04)" stroke="#fff" stroke-width="2.4">0</text>
<text transform="matrix(1.2408 0 0 0.9677 247.02 828.52)">-</text>
<text transform="matrix(0.7914 0 0 0.6996 285.44 826.30)" stroke="#fff" stroke-width="1.6">6</text>
</g>
<g>
<text transform="matrix(0.2380 0 0 0.8916 156.68 1162.00)" filter="url(#d5)">1</text>
<text transform="matrix(1.1393 0 0 0.9470 182.04 1163.05)" stroke="#fff" stroke-width="2.4">0</text>
<text transform="matrix(1.4408 0 0 1.0323 238.22 1134.08)">-</text>
<text transform="matrix(0.8462 0 0 0.7185 283.77 1128.00)" stroke="#fff" stroke-width="1.6">7</text>
</g>
<g>
<text transform="matrix(0.2380 0 0 0.9076 163.58 1475.00)" filter="url(#d6)">1</text>
<text transform="matrix(1.1099 0 0 0.9781 183.56 1474.72)" stroke="#fff" stroke-width="2.4">0</text>
<text transform="matrix(1.3061 0 0 0.9677 236.62 1438.02)">-</text>
<text transform="matrix(0.7979 0 0 0.6784 277.61 1435.12)" stroke="#fff" stroke-width="1.6">8</text>
</g>
<g>
<text transform="matrix(0.2380 0 0 0.9542 163.48 1776.60)" filter="url(#d7)">1</text>
<text transform="matrix(1.1707 0 0 0.9682 180.82 1777.03)" stroke="#fff" stroke-width="2.4">0</text>
<text transform="matrix(1.2000 0 0 1.0323 240.20 1742.48)">-</text>
<text transform="matrix(0.8303 0 0 0.6968 280.66 1737.30)" stroke="#fff" stroke-width="1.6">9</text>
</g>
<g>
<text transform="matrix(0.2380 0 0 0.9309 163.48 2079.00)" filter="url(#d8)">1</text>
<text transform="matrix(1.1728 0 0 0.9512 179.31 2078.05)" stroke="#fff" stroke-width="2.4">0</text>
<text transform="matrix(1.0449 0 0 1.0323 236.70 2043.18)">-</text>
<text transform="matrix(0.2322 0 0 0.7200 273.45 2040.50)" filter="url(#d9)">1</text>
<text transform="matrix(0.8712 0 0 0.7491 292.32 2041.25)" stroke="#fff" stroke-width="2">0</text>
</g>
<g>
<text transform="matrix(0.2380 0 0 0.9091 1933.98 176.00)" filter="url(#d10)">1</text>
<text transform="matrix(1.1937 0 0 0.9541 1949.23 176.55)" stroke="#fff" stroke-width="2.4">0</text>
<text transform="matrix(0.8211 0 0 0.6827 2015.92 133.32)" stroke="#fff" stroke-width="1.6">3</text>
</g>
<g>
<text transform="matrix(0.2380 0 0 0.9309 1938.28 806.00)" filter="url(#d11)">1</text>
<text transform="matrix(1.1728 0 0 0.9611 1953.31 807.64)" stroke="#fff" stroke-width="2.4">0</text>
<text transform="matrix(0.8022 0 0 0.7369 2019.49 773.00)" stroke="#fff" stroke-width="1.6">2</text>
</g>
<g>
<text transform="matrix(0.2380 0 0 0.9484 1940.28 1441.80)" filter="url(#d12)">1</text>
<text transform="matrix(1.1728 0 0 0.9753 1953.31 1442.72)" stroke="#fff" stroke-width="2.4">0</text>
</g>
<text transform="matrix(0.2380 0 0 0.9600 1949.48 2050.00)" filter="url(#d13)">1</text>
<text transform="matrix(1.1728 0 0 0.9498 320.01 2137.75)" stroke="#fff" stroke-width="2.4">0</text>
<text transform="matrix(1.0832 0 0 1.0035 0 2142.00)" stroke="#fff" stroke-width="2.4"><tspan x="727.41" y="0">5</tspan><tspan x="791.44" y="0">0</tspan><tspan x="851.68" y="0">0</tspan></text>
<g>
<text transform="matrix(0.2380 0 0 0.9309 1339.98 2138.70)" filter="url(#d14)">1</text>
<text transform="matrix(1.1407 0 0 0.9682 0 2139.03)" stroke="#fff" stroke-width="2.4"><tspan x="1199.92" y="0">0</tspan><tspan x="1256.73" y="0">0</tspan><tspan x="1315.73" y="0">0</tspan></text>
</g>
<g>
<text transform="matrix(0.2380 0 0 0.9556 1835.98 2139.70)" filter="url(#d15)">1</text>
<text transform="matrix(1.0832 0 0 0.9484 0 2138.75)" stroke="#fff" stroke-width="2.4"><tspan x="1716.13" y="0">5</tspan><tspan x="1768.44" y="0">0</tspan><tspan x="1828.86" y="0">0</tspan></text>
</g>
<text transform="matrix(1.0500 0 0 1.1753 0 2277.80)" stroke="#fff" stroke-width="1.2"><tspan x="825.02" y="0">T</tspan> <tspan x="922.44" y="-11.29" font-size="83.9" stroke-width="2.4">(</tspan><tspan x="971.01" y="0">m</tspan><tspan x="1059.17" y="0">K</tspan><tspan x="1154.52" y="-9.97" font-size="85.8" stroke-width="2.4">)</tspan></text>
<text transform="matrix(0 -1.9651 1.1535 0 124.35 1336.05)" filter="url(#e16)">τ</text>
<text transform="matrix(0 -0.6447 0.5859 0 164.87 1293.56)" stroke="#fff" stroke-width="1.4">Q</text>
<text transform="matrix(0 -1.0000 1.0411 0 123.96 0)" stroke="#fff" stroke-width="1.4"><tspan x="-1229.59" y="-9.06" font-size="104.0" stroke-width="3.2">(</tspan><tspan x="-1179.92" y="0">s</tspan><tspan x="-1124.91" y="-9.06" font-size="104.0" stroke-width="3.2">)</tspan></text>
<text transform="matrix(0 -1.0796 1.1665 0 2152.70 1335.43)" stroke="#fff" stroke-width="1.4">T</text>
<text transform="matrix(0 -0.1887 0.6982 0 2184.00 1280.07)" filter="url(#d17)">1</text>
<text transform="matrix(0 -1.0000 1.0921 0 2152.70 0)" stroke="#fff" stroke-width="1.4"><tspan x="-1221.07" y="-11.94" font-size="98.6" stroke-width="3.2">(</tspan><tspan x="-1180.40" y="0">m</tspan><tspan x="-1079.03" y="0">s</tspan><tspan x="-1015.30" y="-11.94" font-size="98.6" stroke-width="3.2">)</tspan></text>
</g>
</svg>
</body>
</html>
